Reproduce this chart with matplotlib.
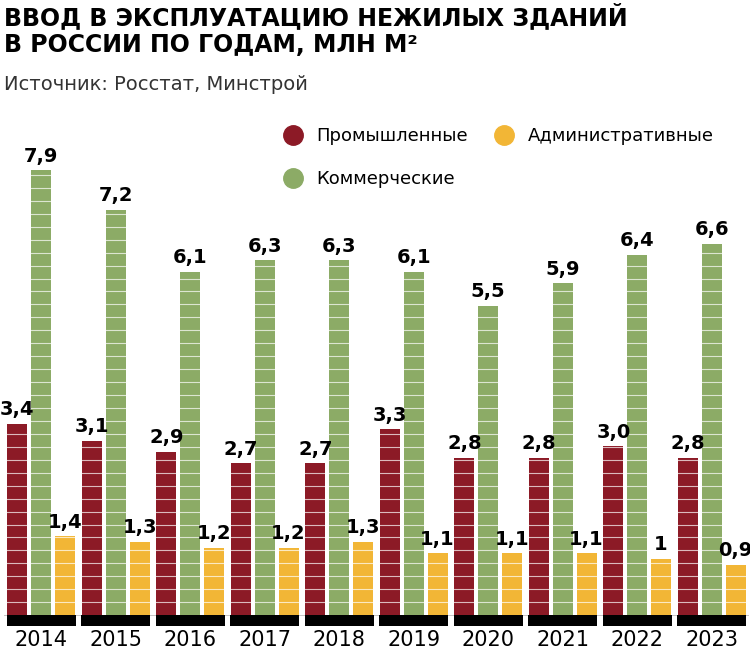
import numpy as np
import matplotlib.pyplot as plt
from matplotlib.lines import Line2D

years = ["2014", "2015", "2016", "2017", "2018", "2019", "2020", "2021", "2022", "2023"]
industrial = [3.4, 3.1, 2.9, 2.7, 2.7, 3.3, 2.8, 2.8, 3.0, 2.8]
commercial = [7.9, 7.2, 6.1, 6.3, 6.3, 6.1, 5.5, 5.9, 6.4, 6.6]
admin = [1.4, 1.3, 1.2, 1.2, 1.3, 1.1, 1.1, 1.1, 1.0, 0.9]

RED, GREEN, YEL = "#8c1a26", "#8cab66", "#f2b636"
plt.rcParams["font.family"] = ["DejaVu Sans Condensed", "DejaVu Sans"]

fig = plt.figure(figsize=(7.5, 6.54), dpi=100)
ax = fig.add_axes([4 / 750, 27 / 654, 745 / 750, (627 - 131) / 654])
ax.set_xlim(-0.5, 9.5)
ax.set_ylim(-0.21, 8.6)
ax.axis("off")

x = np.arange(len(years))
w = 0.27
off = 0.32
ax.bar(x - off, industrial, w, color=RED, zorder=2)
ax.bar(x, commercial, w, color=GREEN, zorder=2)
ax.bar(x + off, admin, w, color=YEL, zorder=2)
# thin white stripes across the bars
for yy in np.arange(0.23, 8.2, 0.23):
    ax.axhline(yy, color="white", lw=0.8, alpha=0.7, zorder=3)
# black base under each group
ax.bar(x, [-0.2] * len(x), 0.92, color="black", zorder=2)
ax.axhline(0, color="#bbbbbb", lw=0.6, zorder=1)

def fmt(v):
    return "1" if v == 1.0 else f"{v:.1f}".replace(".", ",")

for xs, vals in [(x - off, industrial), (x, commercial), (x + off, admin)]:
    for xi, v in zip(xs, vals):
        ax.text(xi, v + 0.08, fmt(v), ha="center", va="bottom", fontsize=14,
                fontweight="bold", zorder=5)

for xi, yr in zip(x, years):
    ax.text(xi, -0.27, yr, ha="center", va="top", fontsize=15, zorder=5)

fig.text(0.005, 0.995, "ВВОД В ЭКСПЛУАТАЦИЮ НЕЖИЛЫХ ЗДАНИЙ\nВ РОССИИ ПО ГОДАМ, МЛН М²",
         ha="left", va="top", fontsize=17, fontweight="bold", linespacing=1.15)
fig.text(0.005, 0.885, "Источник: Росстат, Минстрой", ha="left", va="top", fontsize=14,
         color="#333333")

def mk(c):
    return Line2D([], [], marker="o", ls="none", markersize=14, color=c)

fig.legend([mk(RED), mk(YEL)], ["Промышленные", "Административные"], loc="upper left",
           bbox_to_anchor=(0.345, 0.83), ncol=2, frameon=False, fontsize=13,
           handletextpad=0.3, columnspacing=1.0)
fig.legend([mk(GREEN)], ["Коммерческие"], loc="upper left",
           bbox_to_anchor=(0.345, 0.765), frameon=False, fontsize=13, handletextpad=0.3)

fig.savefig("out.png", dpi=100)
